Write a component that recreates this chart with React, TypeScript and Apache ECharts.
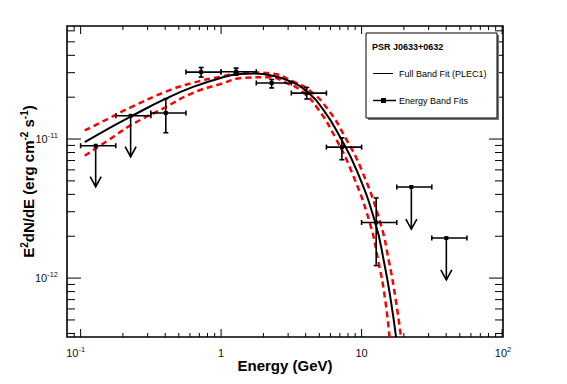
import React, { useEffect, useRef } from 'react';
import * as echarts from 'echarts';

const FONT = '"Liberation Sans", Arial, Helvetica, sans-serif';

// Axis ranges
const X_MIN = 0.08;
const X_MAX = 101.5;
const Y_MIN = 3.77e-13;
const Y_MAX = 6.5e-11;

// Full band fit (PLEC1) curve
const fitEnergy = [0.107, 0.16, 0.227, 0.404, 0.632, 0.98, 1.36, 1.74, 2.23, 3.1, 4.07, 5.35, 7.04, 9.26, 12.5, 14.5, 16.0, 17.6];
const fitFlux = [9.5e-12, 1.2e-11, 1.45e-11, 1.95e-11, 2.37e-11, 2.74e-11, 2.93e-11, 2.96e-11, 2.88e-11, 2.6e-11, 2.2e-11, 1.62e-11, 1.03e-11, 5.9e-12, 2.51e-12, 1.28e-12, 7.33e-13, 3.76e-13];

// Error band (red dashed)
const bandUpperEnergy = [0.107, 0.16, 0.227, 0.404, 0.632, 0.98, 1.48, 2.23, 3.25, 4.35, 5.78, 7.64, 10.05, 13.57, 15.74, 17.37, 19.07];
const bandUpperFlux = [1.153e-11, 1.414e-11, 1.688e-11, 2.189e-11, 2.54e-11, 2.8e-11, 3.024e-11, 2.97e-11, 2.597e-11, 2.2e-11, 1.625e-11, 1.03e-11, 5.915e-12, 2.51e-12, 1.282e-12, 7.33e-13, 3.764e-13];
const bandLowerEnergy = [0.107, 0.16, 0.227, 0.404, 0.632, 0.98, 1.48, 2.23, 2.92, 3.77, 4.94, 6.48, 8.43, 11.42, 13.24, 14.62, 15.81];
const bandLowerFlux = [7.585e-12, 9.92e-12, 1.253e-11, 1.699e-11, 2.15e-11, 2.48e-11, 2.761e-11, 2.783e-11, 2.528e-11, 2.2e-11, 1.625e-11, 1.03e-11, 5.915e-12, 2.51e-12, 1.282e-12, 7.33e-13, 3.764e-13];

// Energy band fits
const pointEnergy = [0.128, 0.227, 0.404, 0.721, 1.28, 2.29, 4.07, 7.24, 12.7, 22.6, 40.1];
const binLow = [0.1, 0.178, 0.316, 0.562, 1.0, 1.78, 3.16, 5.62, 10, 17.8, 31.6];
const binHigh = [0.178, 0.316, 0.562, 1.0, 1.78, 3.16, 5.62, 10, 17.8, 31.6, 56.2];
const pointFlux = [8.95e-12, 1.47e-11, 1.54e-11, 3.03e-11, 3.05e-11, 2.53e-11, 2.14e-11, 8.75e-12, 2.51e-12, 4.52e-12, 1.94e-12];
const fluxLow = [null, null, 1.11e-11, 2.79e-11, 2.88e-11, 2.33e-11, 1.94e-11, 7.1e-12, 1.23e-12, null, null];
const fluxHigh = [null, null, 1.95e-11, 3.27e-11, 3.24e-11, 2.68e-11, 2.35e-11, 1.02e-11, 3.77e-12, null, null];
const isUpperLimit = [true, true, false, false, false, false, false, false, false, true, true];
const arrowTip = [4.54e-12, 7.46e-12, null, null, null, null, null, null, null, 2.25e-12, 9.72e-13];

// Ticks and tick labels
const xMajorTicks = [0.1, 1, 10, 100];
const xTickBase = ['10', '1', '10', '10'];
const xTickExp = ['-1', '', '', '2'];
const xMinorTicks = [0.09, 0.2, 0.3, 0.4, 0.5, 0.6, 0.7, 0.8, 0.9, 2, 3, 4, 5, 6, 7, 8, 9, 20, 30, 40, 50, 60, 70, 80, 90];
const yMajorTicks = [1e-12, 1e-11];
const yTickBase = ['10', '10'];
const yTickExp = ['-12', '-11'];
const yMinorTicks = [4e-13, 5e-13, 6e-13, 7e-13, 8e-13, 9e-13, 2e-12, 3e-12, 4e-12, 5e-12, 6e-12, 7e-12, 8e-12, 9e-12, 2e-11, 3e-11, 4e-11, 5e-11, 6e-11];

const findTick = (ticks: number[], v: number) =>
  ticks.findIndex((t) => Math.abs(Math.log10(t) - Math.log10(v)) < 0.01);

const labelRich = {
  b: { fontFamily: FONT, fontSize: 11, lineHeight: 15, color: '#111' },
  s: { fontFamily: FONT, fontSize: 7.5, lineHeight: 9, verticalAlign: 'top', color: '#111' },
  sl: { fontFamily: FONT, fontSize: 7.5, lineHeight: 9, verticalAlign: 'top', color: '#111', padding: [0, 10, 0, 0] },
};

export default function App() {
  const ref = useRef<HTMLDivElement>(null);
  useEffect(() => {
    document.body.style.margin = '0';
    const chart = echarts.init(ref.current!, null, { renderer: 'svg' });

    const pointRows = pointEnergy.map((e, i) => [
      e,
      pointFlux[i],
      fluxLow[i] ?? pointFlux[i],
      fluxHigh[i] ?? pointFlux[i],
      binLow[i],
      binHigh[i],
      isUpperLimit[i] ? 1 : 0,
      arrowTip[i] ?? pointFlux[i],
    ]);

    const xTickRows = [
      ...xMajorTicks.map((v) => [v, Y_MIN, 1]),
      ...xMinorTicks.map((v) => [v, Y_MIN, 0]),
    ];
    const yTickRows = [
      ...yMajorTicks.map((v) => [X_MIN, v, 1]),
      ...yMinorTicks.map((v) => [X_MIN, v, 0]),
    ];

    const tickStyle = { stroke: '#000', lineWidth: 1 };
    const barStyle = { stroke: '#000', lineWidth: 1.6 };

    const option: any = {
      animation: false,
      backgroundColor: '#fff',
      grid: {
        left: 67,
        right: 64,
        top: 26,
        bottom: 47,
        show: true,
        borderColor: '#000',
        borderWidth: 1.6,
        backgroundColor: 'transparent',
        containLabel: false,
        outerBoundsMode: 'none',
      },
      xAxis: {
        type: 'log',
        logBase: 10,
        min: X_MIN,
        max: X_MAX,
        axisLine: { show: false },
        axisTick: { show: false },
        minorTick: { show: false },
        splitLine: { show: false },
        axisLabel: {
          margin: 8,
          showMinLabel: true,
          showMaxLabel: true,
          formatter: (v: number) => {
            const i = findTick(xMajorTicks, v);
            if (i < 0) return '';
            const exp = xTickExp[i];
            if (!exp) return `{b|${xTickBase[i]}}`;
            return exp === '-1' ? `{b|${xTickBase[i]}}{sl|${exp}}` : `{b|${xTickBase[i]}}{s|${exp}}`;
          },
          rich: labelRich,
        },
        name: 'Energy (GeV)',
        nameLocation: 'middle',
        nameGap: 21,
        nameMoveOverlap: false,
        nameTextStyle: { fontFamily: FONT, fontSize: 15, fontWeight: 'bold', color: '#000' },
      },
      yAxis: {
        type: 'log',
        logBase: 10,
        min: Y_MIN,
        max: Y_MAX,
        axisLine: { show: false },
        axisTick: { show: false },
        minorTick: { show: false },
        splitLine: { show: false },
        axisLabel: {
          margin: 9,
          formatter: (v: number) => {
            const i = findTick(yMajorTicks, v);
            if (i < 0) return '';
            return `{b|${yTickBase[i]}}{s|${yTickExp[i]}}`;
          },
          rich: labelRich,
        },
        name: '{b|E}{s|2}{b|dN/dE (erg cm}{s|-2}{b| s}{s|-1}{b|)}',
        nameLocation: 'middle',
        nameGap: 29,
        nameMoveOverlap: false,
        nameTextStyle: {
          rich: {
            b: { fontFamily: FONT, fontSize: 15, fontWeight: 'bold', lineHeight: 19, color: '#000' },
            s: { fontFamily: FONT, fontSize: 10, fontWeight: 'bold', lineHeight: 10, verticalAlign: 'top', color: '#000' },
          },
        },
      },
      series: [
        {
          name: 'Full Band Fit (PLEC1)',
          type: 'line',
          data: fitEnergy.map((e, i) => [e, fitFlux[i]]),
          smooth: 0.5,
          showSymbol: false,
          lineStyle: { color: '#000', width: 2 },
          z: 3,
          silent: true,
        },
        {
          name: 'Fit error (upper)',
          type: 'line',
          data: bandUpperEnergy.map((e, i) => [e, bandUpperFlux[i]]),
          smooth: 0.5,
          showSymbol: false,
          lineStyle: { color: '#ff0000', width: 2.5, type: [6, 4] },
          z: 2,
          silent: true,
        },
        {
          name: 'Fit error (lower)',
          type: 'line',
          data: bandLowerEnergy.map((e, i) => [e, bandLowerFlux[i]]),
          smooth: 0.5,
          showSymbol: false,
          lineStyle: { color: '#ff0000', width: 2.5, type: [6, 4] },
          z: 2,
          silent: true,
        },
        {
          name: 'Energy Band Fits',
          type: 'custom',
          data: pointRows,
          encode: { x: 0, y: 1 },
          z: 5,
          silent: true,
          itemStyle: { color: '#000' },
          renderItem: (_p: any, api: any) => {
            const e = api.value(0);
            const f = api.value(1);
            const lo = api.value(2);
            const hi = api.value(3);
            const bl = api.value(4);
            const bh = api.value(5);
            const ul = api.value(6);
            const tip = api.value(7);
            const c = api.coord([e, f]);
            const l = api.coord([bl, f]);
            const r = api.coord([bh, f]);
            const ch: any[] = [
              { type: 'line', shape: { x1: l[0], y1: c[1], x2: r[0], y2: c[1] }, style: barStyle },
              { type: 'line', shape: { x1: l[0], y1: c[1] - 2.5, x2: l[0], y2: c[1] + 2.5 }, style: barStyle },
              { type: 'line', shape: { x1: r[0], y1: c[1] - 2.5, x2: r[0], y2: c[1] + 2.5 }, style: barStyle },
            ];
            if (ul) {
              const t = api.coord([e, tip]);
              ch.push({ type: 'line', shape: { x1: c[0], y1: c[1], x2: t[0], y2: t[1] }, style: barStyle });
              ch.push({
                type: 'polyline',
                shape: { points: [[t[0] - 5.5, t[1] - 10], [t[0], t[1]], [t[0] + 5.5, t[1] - 10]] },
                style: { ...barStyle, fill: null },
              });
            } else {
              const a = api.coord([e, hi]);
              const b = api.coord([e, lo]);
              ch.push({ type: 'line', shape: { x1: c[0], y1: a[1], x2: c[0], y2: b[1] }, style: barStyle });
              ch.push({ type: 'line', shape: { x1: c[0] - 2.5, y1: a[1], x2: c[0] + 2.5, y2: a[1] }, style: barStyle });
              ch.push({ type: 'line', shape: { x1: c[0] - 2.5, y1: b[1], x2: c[0] + 2.5, y2: b[1] }, style: barStyle });
            }
            ch.push({ type: 'rect', shape: { x: c[0] - 2, y: c[1] - 2, width: 4, height: 4 }, style: { fill: '#000' } });
            return { type: 'group', children: ch };
          },
        },
        {
          name: 'x ticks',
          type: 'custom',
          data: xTickRows,
          encode: { x: 0, y: 1 },
          silent: true,
          z: 6,
          renderItem: (_p: any, api: any) => {
            const v = api.value(0);
            const len = api.value(2) ? 8 : 4;
            const b = api.coord([v, Y_MIN]);
            const t = api.coord([v, Y_MAX]);
            return {
              type: 'group',
              children: [
                { type: 'line', shape: { x1: b[0], y1: b[1], x2: b[0], y2: b[1] - len }, style: tickStyle },
                { type: 'line', shape: { x1: t[0], y1: t[1], x2: t[0], y2: t[1] + len }, style: tickStyle },
              ],
            };
          },
        },
        {
          name: 'y ticks',
          type: 'custom',
          data: yTickRows,
          encode: { x: 0, y: 1 },
          silent: true,
          z: 6,
          renderItem: (_p: any, api: any) => {
            const v = api.value(1);
            const len = api.value(2) ? 14 : 8;
            const l = api.coord([X_MIN, v]);
            const r = api.coord([X_MAX, v]);
            return {
              type: 'group',
              children: [
                { type: 'line', shape: { x1: l[0], y1: l[1], x2: l[0] + len, y2: l[1] }, style: tickStyle },
                { type: 'line', shape: { x1: r[0], y1: r[1], x2: r[0] - len, y2: r[1] }, style: tickStyle },
              ],
            };
          },
        },
      ],
      graphic: [
        { type: 'rect', z: 100, shape: { x: 368, y: 35, width: 131, height: 85 }, style: { fill: '#777' } },
        { type: 'rect', z: 101, shape: { x: 366, y: 33, width: 131, height: 85 }, style: { fill: '#fff', stroke: '#000', lineWidth: 1 } },
        {
          type: 'text', z: 102, x: 372, y: 47,
          style: { text: 'PSR J0633+0632', fontFamily: FONT, fontSize: 9, fontWeight: 'bold', fill: '#000', verticalAlign: 'middle' },
        },
        { type: 'line', z: 102, shape: { x1: 373, y1: 73.5, x2: 393, y2: 73.5 }, style: { stroke: '#000', lineWidth: 1 } },
        {
          type: 'text', z: 102, x: 399, y: 73.5,
          style: { text: 'Full Band Fit (PLEC1)', fontFamily: FONT, fontSize: 9, fill: '#000', verticalAlign: 'middle' },
        },
        { type: 'line', z: 102, shape: { x1: 373, y1: 100.5, x2: 396, y2: 100.5 }, style: { stroke: '#000', lineWidth: 1.5 } },
        { type: 'rect', z: 102, shape: { x: 381, y: 98, width: 5, height: 5 }, style: { fill: '#000' } },
        {
          type: 'text', z: 102, x: 399, y: 100.5,
          style: { text: 'Energy Band Fits', fontFamily: FONT, fontSize: 9, fill: '#000', verticalAlign: 'middle' },
        },
      ],
    };

    chart.setOption(option);
    return () => chart.dispose();
  }, []);

  return <div ref={ref} style={{ position: 'fixed', left: 0, top: 0, width: 567, height: 384 }} />;
}
